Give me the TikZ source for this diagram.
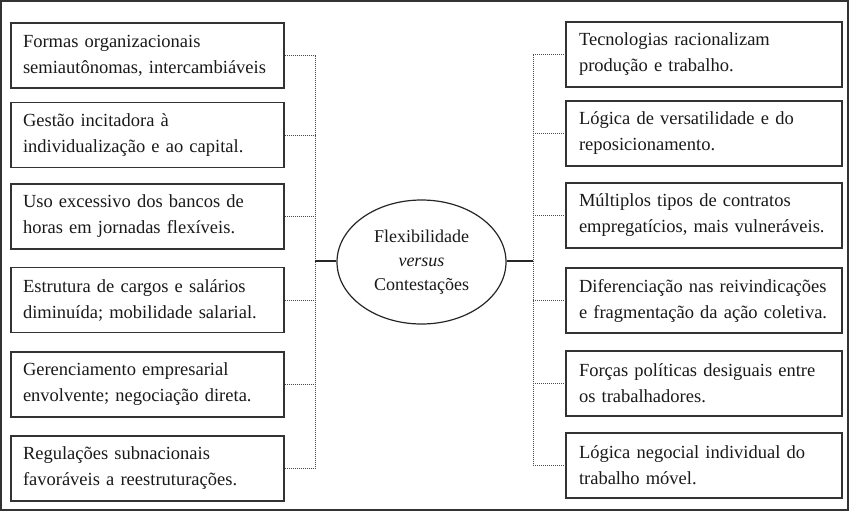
\documentclass[tikz,border=0pt]{standalone}
\usepackage{fontspec}
\setmainfont{Liberation Serif}
\usetikzlibrary{shapes.geometric}
\begin{document}
\begin{tikzpicture}[x=1pt,y=-1pt,
  txt/.style={font=\fontsize{18.5}{26}\selectfont, text=black!90},
  lbox/.style={txt, draw=black!80, line width=1.2pt, rectangle, minimum width=273pt, minimum height=65pt, text width=249pt, inner xsep=12pt, inner ysep=0pt, align=left},
  rbox/.style={lbox, minimum width=276pt, text width=250pt, inner xsep=13pt},
  hub/.style={txt, draw=black!85, line width=1.2pt, ellipse, minimum width=169pt, minimum height=124pt, inner sep=0pt, align=center, font=\fontsize{18}{24}\selectfont},
  dots/.style={draw=black!70, line width=0.9pt, dash pattern=on 0.9pt off 1.1pt},
  solid link/.style={draw=black!85, line width=1.1pt}]
\useasboundingbox (0,0) rectangle (850,512);
\draw[draw=black!80, line width=1.6pt] (1,1) rectangle (848,510);

% left boxes
\node[lbox] (L1) at (147.5,55.5) {Formas organizacionais\\semiautônomas, intercambiáveis};
\node[lbox] (L2) at (147.5,135) {Gestão incitadora à\\individualização e ao capital.};
\node[lbox] (L3) at (147.5,216.5) {Uso excessivo dos bancos de\\horas em jornadas flexíveis.};
\node[lbox] (L4) at (147.5,300) {Estrutura de cargos e salários\\diminuída; mobilidade salarial.};
\node[lbox] (L5) at (147.5,384.5) {Gerenciamento empresarial\\envolvente; negociação direta.};
\node[lbox] (L6) at (147.5,468.5) {Regulações subnacionais\\favoráveis a reestruturações.};

% right boxes
\node[rbox] (R1) at (704,54.5) {Tecnologias racionalizam\\produção e trabalho.};
\node[rbox] (R2) at (704,133.5) {Lógica de versatilidade e do\\reposicionamento.};
\node[rbox] (R3) at (704,215.5) {Múltiplos tipos de contratos\\empregatícios, mais vulneráveis.};
\node[rbox] (R4) at (704,300.5) {Diferenciação nas reivindicações\\e fragmentação da ação coletiva.};
\node[rbox] (R5) at (704,383.5) {Forças políticas desiguais entre\\os trabalhadores.};
\node[rbox] (R6) at (704,465.5) {Lógica negocial individual do\\trabalho móvel.};

% hub
\node[hub] (C) at (421.5,262) {Flexibilidade\\\textit{versus}\\Contestações};

% bus coordinates
\coordinate (LB) at (315,261);
\coordinate (RB) at (533,261);

% left dotted connectors
\foreach \n in {L1,L2,L3,L4,L5,L6}
  \draw[dots] (\n.east) -- (\n.east -| LB);
\draw[dots] (L1.east -| LB) -- (L6.east -| LB);
% right dotted connectors
\foreach \n in {R1,R2,R3,R4,R5,R6}
  \draw[dots] (\n.west) -- (\n.west -| RB);
\draw[dots] (R1.west -| RB) -- (R6.west -| RB);

% solid links to hub
\draw[solid link] (LB) -- (C.west |- LB);
\draw[solid link] (C.east |- RB) -- (RB);
\end{tikzpicture}
\end{document}
